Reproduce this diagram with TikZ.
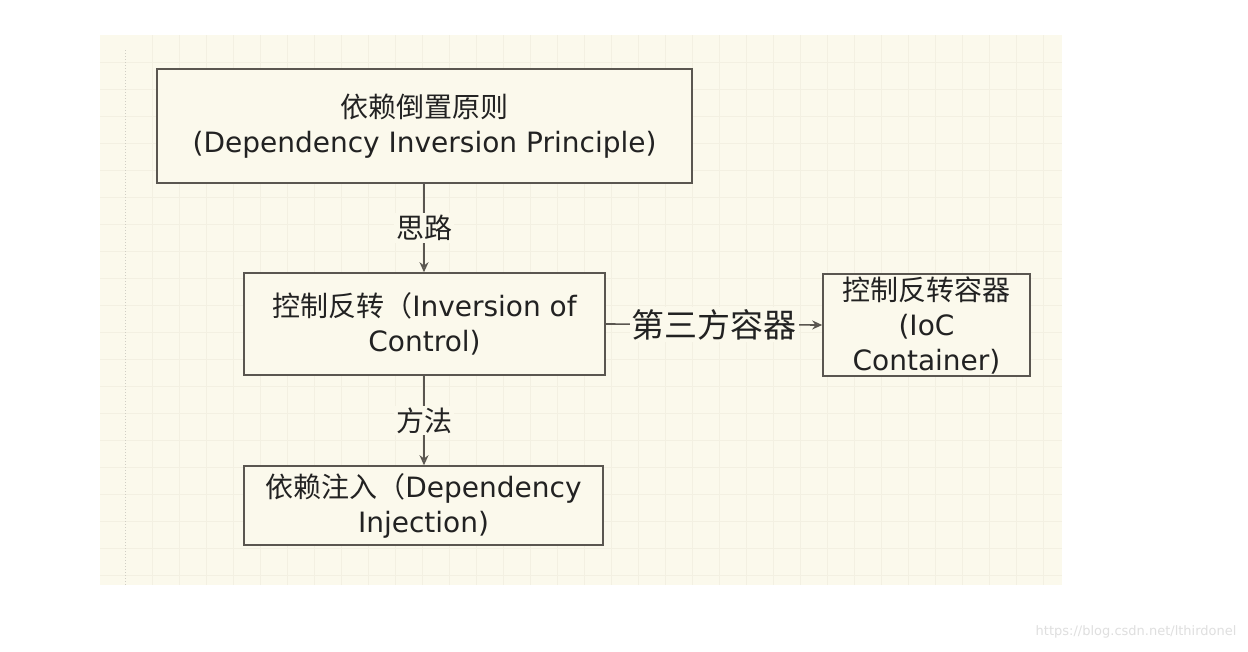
\documentclass[tikz,border=0pt]{standalone}
\usepackage{fontspec}
\setmainfont{DejaVu Sans}
\newfontfamily\cjk{Noto Sans CJK SC}
\usetikzlibrary{arrows.meta}
\definecolor{bgc}{HTML}{FBF9EC}
\definecolor{gridc}{HTML}{F3F0E2}
\definecolor{edgec}{HTML}{5A5650}
\definecolor{txt}{HTML}{222222}
\tikzset{
  box/.style={draw=edgec, line width=1.6pt, fill=bgc, inner sep=0pt, text=txt, align=center, font=\fontsize{28}{35}\selectfont},
  conn/.style={draw=edgec, line width=1.6pt, -{Stealth[open,length=10pt,width=9pt]}},
  lbl/.style={fill=bgc, text=txt, inner sep=2pt, font=\cjk\fontsize{28}{30}\selectfont}
}
\begin{document}
\begin{tikzpicture}[x=1pt,y=-1pt]
\useasboundingbox (0,0) rectangle (1248,651);
\fill[white] (0,0) rectangle (1248,651);
\fill[bgc] (100,35) rectangle (1062,585);
\foreach \x in {152,179,...,1062} \draw[gridc, line width=0.5pt] (\x,35) -- (\x,585);
\foreach \y in {62,89,...,585} \draw[gridc, line width=0.5pt] (100,\y) -- (1062,\y);
\draw[gridc!70!gray, dotted, line width=1pt] (125,50) -- (125,585);
\node[box, minimum width=535pt, minimum height=114pt] (dip) at (424.5,126) {{\cjk 依赖倒置原则}\\(Dependency Inversion Principle)};
\node[box, minimum width=361pt, minimum height=102pt] (ioc) at (424.5,324) {{\cjk 控制反转（}Inversion of\\Control)};
\node[box, minimum width=207pt, minimum height=102pt] (cont) at (926.5,325) {{\cjk 控制反转容器}\\(IoC\\Container)};
\node[box, minimum width=359pt, minimum height=79pt] (di) at (423.5,505.5) {{\cjk 依赖注入（}Dependency\\Injection)};
\draw[conn] (dip.south -| 424,0) -- node[lbl]{思路} (ioc.north -| 424,0);
\draw[conn] (ioc.south -| 424,0) -- node[lbl]{方法} (di.north -| 424,0);
\draw[conn] (ioc.east) -- node[lbl, font=\cjk\fontsize{33}{36}\selectfont]{第三方容器} (cont.west);
\node[text=gray!25, font=\fontsize{13}{15}\selectfont, anchor=east] (wm) at (1240,632) {https://blog.csdn.net/lthirdonel};
\end{tikzpicture}
\end{document}
